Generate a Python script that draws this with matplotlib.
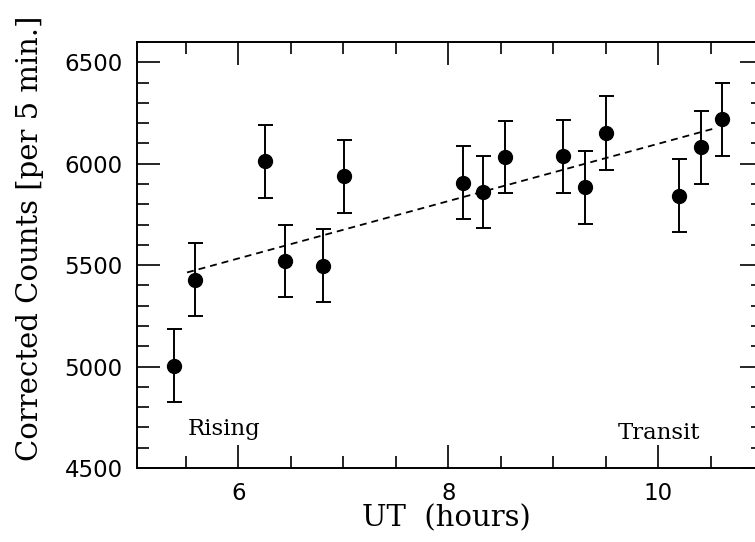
import numpy as np
import matplotlib
matplotlib.use('Agg')
import matplotlib.pyplot as plt
from matplotlib.ticker import MultipleLocator

plt.rcParams['lines.scale_dashes'] = False

# observation times (UT hours) and corrected counts per 5 min
ut_hours = [5.39, 5.59, 6.25, 6.44, 6.81, 7.01, 8.135, 8.33, 8.54,
            9.09, 9.30, 9.50, 10.20, 10.41, 10.61]
counts = [5004, 5429, 6013, 5521, 5498, 5939, 5907, 5860, 6033,
          6036, 5883, 6151, 5841, 6082, 6219]
count_err = [180, 181, 180, 179, 180, 180, 180, 179, 179,
             180, 180, 181, 180, 180, 181]

# dashed trend line end points
fit_x = [5.51, 10.52]
fit_y = [5464, 6172]

serif = 'DejaVu Serif'
sans = 'DejaVu Sans'

fig = plt.figure(figsize=(7.55, 5.42), dpi=100)
ax = fig.add_axes([0.181, 0.1365, 0.830, 0.786])

ax.plot(fit_x, fit_y, color='black', lw=1.3, ls='--', dashes=(5, 3.6))
ax.errorbar(ut_hours, counts, yerr=count_err, fmt='o', color='black',
            ms=10, elinewidth=1.4, capsize=5.4, capthick=1.4)

ax.text(5.516, 4664, 'Rising', family=serif, fontsize=16.5, va='baseline')
ax.text(9.615, 4643, 'Transit', family=serif, fontsize=16.5, va='baseline')

ax.set_xlim(5.03, 11.0)
ax.set_ylim(4500, 6600)
ax.xaxis.set_major_locator(MultipleLocator(2))
ax.xaxis.set_minor_locator(MultipleLocator(0.5))
ax.yaxis.set_major_locator(MultipleLocator(500))
ax.yaxis.set_minor_locator(MultipleLocator(100))
ax.set_yticks([4500, 5000, 5500, 6000, 6500])

ax.tick_params(which='both', direction='in', top=True, right=True,
               width=1.2, color='black')
ax.tick_params(which='major', length=16.5, pad=10, labelsize=16.5)
ax.tick_params(which='minor', length=8.3)
for lab in ax.get_xticklabels() + ax.get_yticklabels():
    lab.set_family(sans)
for s in ax.spines.values():
    s.set_linewidth(1.4)

ax.set_xlabel('UT  (hours)', family=serif, fontsize=21)
ax.xaxis.label.set_va('center')
ax.xaxis.set_label_coords(0.494, -0.119)
ax.set_ylabel('Corrected Counts [per 5 min.]', family=serif, fontsize=21)
ax.yaxis.label.set_va('center')
ax.yaxis.set_label_coords(-0.170, 0.54)

fig.savefig('out.png', dpi=100)
